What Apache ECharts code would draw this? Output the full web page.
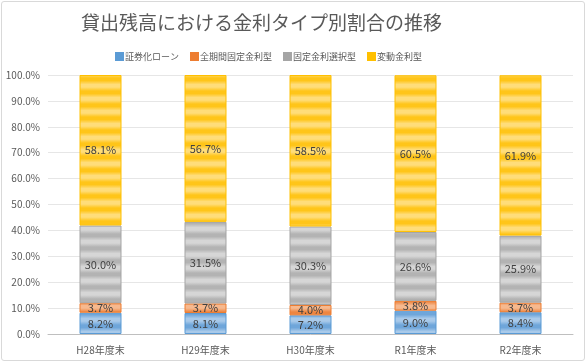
<!DOCTYPE html>
<html><head><meta charset="utf-8">
<script src="https://cdn.jsdelivr.net/npm/echarts@6/dist/echarts.min.js"></script>
<style>html,body{margin:0;padding:0;background:#fff;}#wrap{position:absolute;left:1px;top:1px;width:582px;height:358px;border:1px solid #d9d9d9;border-radius:3px;}#c{width:586px;height:362px;position:absolute;left:0;top:0;}</style>
</head><body><div id="wrap"></div><div id="c"></div>
<script>
const categories = ['H28年度末','H29年度末','H30年度末','R1年度末','R2年度末'];
const seriesNames = ['証券化ローン','全期間固定金利型','固定金利選択型','変動金利型'];
const securitized = [8.2, 8.1, 7.2, 9.0, 8.4];
const fullFixed = [3.7, 3.7, 4.0, 3.8, 3.7];
const fixedSelect = [30.0, 31.5, 30.3, 26.6, 25.9];
const variable = [58.1, 56.7, 58.5, 60.5, 61.9];

const baseColors = ['#5B9BD5','#ED7D31','#A5A5A5','#FFC000'];
const darkColors = ['#6FA6DA','#EE8540','#B3B3B3','#FFC519'];
const lightColors = ['#A9CAEA','#F6B98F','#D6D6D6','#FFDD7A'];

function pattern(dark, light){
  const cv = document.createElement('canvas');
  cv.width = 8; cv.height = 13;
  const ctx = cv.getContext('2d');
  const g = ctx.createLinearGradient(0,0,0,13);
  g.addColorStop(0, dark);
  g.addColorStop(0.2, dark);
  g.addColorStop(0.5, light);
  g.addColorStop(0.7, light);
  g.addColorStop(1, dark);
  ctx.fillStyle = g;
  ctx.fillRect(0,0,8,13);
  return {image: cv, repeat: 'repeat'};
}

const values = [securitized, fullFixed, fixedSelect, variable];
const chart = echarts.init(document.getElementById('c'));
chart.setOption({
  animation: false,
  textStyle: {fontFamily: '"Noto Sans CJK JP", "Noto Sans", sans-serif'},
  title: {
    text: '貸出残高における金利タイプ別割合の推移',
    left: 76, top: 8,
    textStyle: {fontSize: 19, color: '#595959', fontWeight: 'normal', fontFamily: '"Noto Sans CJK JP", sans-serif'}
  },
  legend: {
    top: 47, left: 110,
    itemWidth: 7, itemHeight: 7, itemGap: 11,
    icon: 'rect',
    textStyle: {fontSize: 9, color: '#595959', padding: [0,0,0,-3]},
    data: seriesNames.map((n,i)=>({name:n, itemStyle:{color: baseColors[i]}}))
  },
  grid: {left: 48, right: 13, top: 75, bottom: 28},
  xAxis: {
    type: 'category', data: categories,
    axisLine: {lineStyle: {color: '#bfbfbf'}},
    axisTick: {show: false},
    axisLabel: {color: '#595959', fontSize: 10, margin: 11}
  },
  yAxis: {
    type: 'value', min: 0, max: 100, interval: 10,
    axisLabel: {color: '#595959', fontSize: 10, formatter: v => v.toFixed(1) + '%'},
    splitLine: {lineStyle: {color: '#e6e6e6'}},
    axisLine: {show: false}, axisTick: {show: false}
  },
  series: seriesNames.map((n,i)=>({
    name: n, type: 'bar', stack: 'total', barWidth: 42,
    data: values[i],
    itemStyle: {color: pattern(darkColors[i], lightColors[i]), borderColor: baseColors[i], borderWidth: 1},
    label: {show: true, position: 'inside', formatter: p => p.value.toFixed(1) + '%', color: '#404040', fontSize: 11}
  }))
});
</script></body></html>
